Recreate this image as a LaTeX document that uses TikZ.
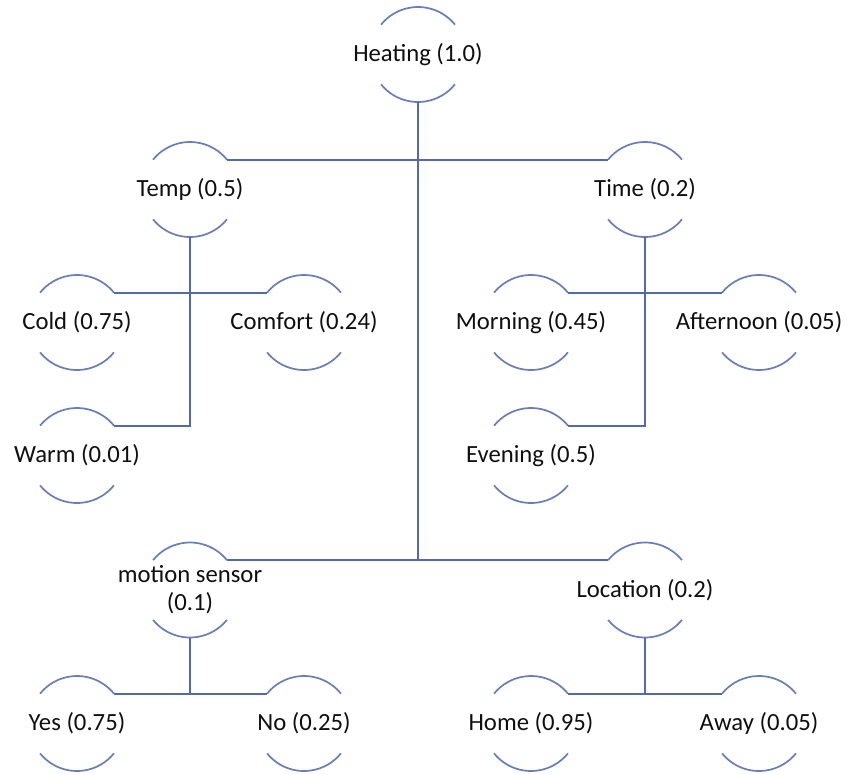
\documentclass[tikz,border=0pt]{standalone}
\usepackage{fontspec}
\setmainfont{Carlito}
\begin{document}
\begin{tikzpicture}[x=1pt,y=-1pt,
  arcline/.style={draw={rgb,255:red,105;green,125;blue,182}, line width=1.7pt},
  link/.style={draw={rgb,255:red,82;green,106;blue,172}, line width=1.8pt},
  topic/.style={circle, minimum size=95pt, inner sep=0pt, outer sep=0pt,
    label={[font=\fontsize{24.7}{28}\selectfont, align=center, text={rgb,255:red,15;green,15;blue,15}]center:#1}}]
\useasboundingbox (0,0) rectangle (848,774);
% two arcs (top and bottom) of each topic circle
\newcommand{\halfarcs}[1]{%
  \draw[arcline] (#1.39) arc[start angle=39, end angle=141, radius=47.5pt];
  \draw[arcline] (#1.-141) arc[start angle=-141, end angle=-39, radius=47.5pt];}

\node[topic={Heating (1.0)}] (heat) at (418,54.5) {};
\node[topic={Temp (0.5)}] (temp) at (190,189.5) {};
\node[topic={Time (0.2)}] (time) at (645,189.5) {};
\node[topic={Cold (0.75)}] (cold) at (77,322.5) {};
\node[topic={Comfort (0.24)}] (comfort) at (304,322.5) {};
\node[topic={Warm (0.01)}] (warm) at (77,455.5) {};
\node[topic={Morning (0.45)}] (morning) at (531,322.5) {};
\node[topic={Afternoon (0.05)}] (afternoon) at (759,322.5) {};
\node[topic={Evening (0.5)}] (evening) at (531,455.5) {};
\node[topic={motion sensor\\(0.1)}] (motion) at (190,590) {};
\node[topic={Location (0.2)}] (loc) at (645,590) {};
\node[topic={Yes (0.75)}] (yes) at (77,723.5) {};
\node[topic={No (0.25)}] (no) at (304,723.5) {};
\node[topic={Home (0.95)}] (home) at (531,723.5) {};
\node[topic={Away (0.05)}] (away) at (759,723.5) {};

\foreach \n in {heat,temp,time,cold,comfort,warm,morning,afternoon,evening,motion,loc,yes,no,home,away}{\halfarcs{\n}}

% connectors
\draw[link] (heat.south) -- (heat.south |- motion.39);
\draw[link] (temp.39) -- (time.141);
\draw[link] (motion.39) -- (loc.141);
\draw[link] (temp.south) -- (temp.south |- warm.39) -- (warm.39);
\draw[link] (cold.39) -- (comfort.141);
\draw[link] (time.south) -- (time.south |- evening.39) -- (evening.39);
\draw[link] (morning.39) -- (afternoon.141);
\draw[link] (motion.south) -- (motion.south |- yes.39);
\draw[link] (yes.39) -- (no.141);
\draw[link] (loc.south) -- (loc.south |- home.39);
\draw[link] (home.39) -- (away.141);
\end{tikzpicture}
\end{document}
